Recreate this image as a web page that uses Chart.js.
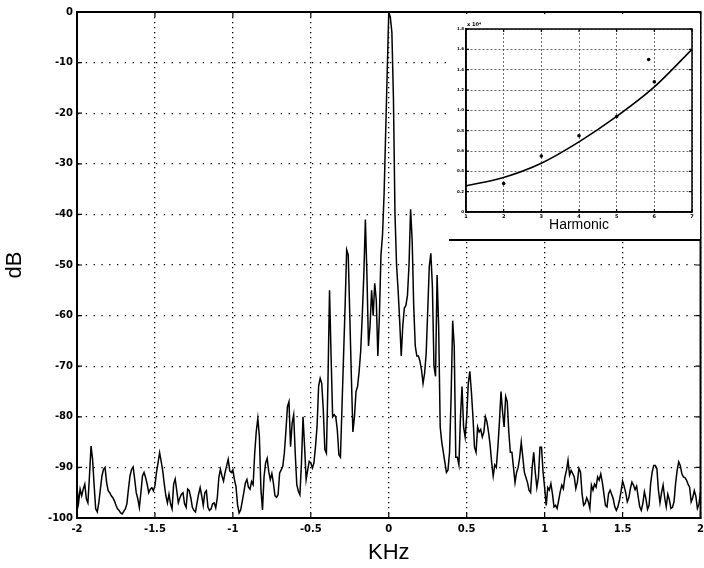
<!DOCTYPE html>
<html>
<head>
<meta charset="utf-8">
<title>Spectrum</title>
<script src="https://cdn.jsdelivr.net/npm/chart.js@4.4.1/dist/chart.umd.min.js"></script>
<style>
    html, body { margin: 0; padding: 0; background: #fff; }
    #wrap { position: relative; width: 704px; height: 568px; overflow: hidden; }
    #spectrumChart { position: absolute; left: 0; top: 0; }
    #inset {
        position: absolute; left: 449px; top: 14px; width: 251px; height: 227px;
        background: #fff; border-bottom: 2px solid #000; box-sizing: border-box;
    }
</style>
</head>
<body>
<div id="wrap">
    <canvas id="spectrumChart" width="704" height="568"></canvas>
    <div id="inset"><canvas id="harmonicChart" width="251" height="225"></canvas></div>
</div>
<script>
// Spectrum in dB, one value every 0.01 kHz
const specNeg2toNeg1 = [
    -94, -97, -94.3, -95.6, -94.3, -93.3, -96.2, -97, -91.7, -85.8,
    -88.4, -93.6, -98.2, -98.8, -97, -94.3, -91.7, -90.4, -90, -93,
    -94.6, -95, -95.6, -96, -96.6, -97.5, -98.2, -98.5, -99, -99.2,
    -98.7, -98.2, -97.2, -94.3, -91.7, -90.4, -89.9, -92.3, -95, -96.2,
    -97.9, -95, -91.7, -91, -92, -93.3, -95, -94.3, -94, -94.6,
    -93.6, -91, -89.1, -87.1, -88.8, -90.7, -93.3, -95.6, -97, -95.3,
    -97.2, -98.2, -93.3, -92.3, -94.6, -97, -96, -95.3, -95, -97.2,
    -97.9, -94.3, -94.6, -96, -97.9, -98.5, -98.8, -97, -95.3, -94,
    -95.6, -97.5, -95, -94.6, -97.9, -98.5, -98.2, -97.2, -97, -98,
    -96, -92, -90.4, -91.7, -92.7, -91, -89.7, -88.4, -90.7, -91
];
const specNeg1to0 = [
    -90.5, -92.4, -93.8, -97.4, -99, -98.4, -96.7, -95, -93.1, -92.4,
    -93.9, -94.3, -92.8, -93.4, -87.2, -82.9, -80.3, -83.9, -94.4, -98.4,
    -91.8, -89.1, -88.2, -90.8, -92.4, -91.2, -93.1, -95.6, -95.9, -95.4,
    -91.1, -90.5, -89.8, -87.2, -82.9, -78, -77, -85.9, -81.3, -79.6,
    -87.2, -93.4, -94.7, -95.4, -89.1, -80, -85.9, -92.4, -90.5, -88.8,
    -89.1, -90.1, -89.1, -85.9, -81.9, -74, -72.4, -73.4, -78.6, -86.5,
    -87.2, -73, -55, -68, -80, -79.6, -80, -82.6, -87.5, -88,
    -78, -68, -58, -47, -48, -60, -72, -83, -80, -75,
    -74, -71, -67, -60, -52, -41, -52, -66, -62, -55,
    -60, -53.6, -57, -68, -60, -48, -44, -36, -24, -12
];
const spec0to1 = [
    0, -1, -4, -17, -40, -50, -55, -61, -68, -62,
    -58.5, -58, -56, -50, -39, -45, -58, -66, -68, -68,
    -69, -70.7, -73.4, -71.4, -67.5, -59, -50.3, -47.7, -54.3, -70,
    -72, -52, -62, -82, -85, -87, -89, -91, -90.5, -87,
    -76, -61, -66, -88, -88, -89.5, -80, -74, -82, -84,
    -80, -73.5, -71, -75, -80, -86, -87, -82, -83, -82.5,
    -84, -83, -80, -81, -83, -85.5, -89, -91.7, -89.5, -90,
    -86, -81, -75, -79, -82, -76, -77, -83, -87, -87,
    -90, -93, -91, -90, -88, -85, -88, -91, -92, -93,
    -94.5, -95, -90, -87, -91, -94, -92, -86, -86, -91
];
const spec1to2 = [
    -94, -97.5, -94, -94.5, -93.2, -95.2, -97.8, -97.5, -98.1, -96.5,
    -94.8, -93.5, -94.2, -91.9, -90.6, -88.6, -91.5, -90.6, -91.2, -91.9,
    -94.2, -92.9, -90.2, -90.9, -95.2, -97.5, -97.1, -96, -96.8, -98.1,
    -93.5, -94.5, -93.3, -93.9, -91.9, -92.5, -91.3, -92.9, -95.2, -97.5,
    -97.8, -95.2, -94.5, -95.3, -96.2, -97.8, -98.5, -97.8, -96.5, -94.8,
    -92.7, -93.7, -95, -96.8, -96, -94.2, -92.9, -93.5, -94.4, -93.7,
    -95.8, -97.8, -98.5, -97.1, -94.8, -96.2, -98.3, -97.5, -93.2, -90.9,
    -89.6, -89.6, -90.2, -94.5, -97, -95, -93.5, -96, -97.8, -95.3,
    -96.4, -98.1, -97.9, -96.8, -93.2, -90.6, -88.9, -89.6, -91.2, -91.9,
    -92, -92.5, -93.3, -93.9, -96.8, -96, -94.6, -95.7, -98.1, -97.3,
    -94.8
];
const freqStart = -2;
const freqStep = 0.01;

// Inset: fitted curve and measured points per harmonic
const harmonics = [1, 2, 3, 4, 5, 6, 7];
const harmonicFit = [0.256, 0.34, 0.48, 0.69, 0.94, 1.23, 1.6];
const measuredX = [2, 3, 4, 5, 5.85, 6];
const measuredY = [0.28, 0.55, 0.75, 0.94, 1.5, 1.28];

// box round the plot area plus inward tick marks (matlab look)
const framePlugin = {
    id: 'frame',
    afterDraw(chart, args, opts) {
        const { ctx, chartArea: a, scales } = chart;
        ctx.save();
        ctx.strokeStyle = '#000';
        ctx.lineWidth = opts.width || 2;
        ctx.strokeRect(a.left, a.top, a.right - a.left, a.bottom - a.top);
        const len = opts.tick || 5;
        ctx.lineWidth = 1.2;
        ctx.beginPath();
        scales.x.ticks.forEach(t => {
            const x = scales.x.getPixelForValue(t.value);
            ctx.moveTo(x, a.top); ctx.lineTo(x, a.top + len);
            ctx.moveTo(x, a.bottom); ctx.lineTo(x, a.bottom - len);
        });
        scales.y.ticks.forEach(t => {
            const y = scales.y.getPixelForValue(t.value);
            ctx.moveTo(a.left, y); ctx.lineTo(a.left + len, y);
            ctx.moveTo(a.right, y); ctx.lineTo(a.right - len, y);
        });
        ctx.stroke();
        if (opts.exponent) {
            ctx.fillStyle = '#000';
            ctx.font = 'bold 5px "DejaVu Sans"';
            ctx.textBaseline = 'bottom';
            ctx.fillText(opts.exponent, a.left + 1, a.top - 2);
        }
        ctx.restore();
    }
};

const shortNum = v => String(+v.toFixed(2));

document.addEventListener('DOMContentLoaded', () => {
    const spectrum = [...specNeg2toNeg1, ...specNeg1to0, ...spec0to1, ...spec1to2];
    const points = spectrum.map((v, i) => ({ x: +(freqStart + i * freqStep).toFixed(2), y: v }));

    const tickFont = { family: 'DejaVu Sans', weight: 'bold', size: 10 };

    // Main spectrum
    new Chart(document.getElementById('spectrumChart'), {
        type: 'line',
        data: {
            datasets: [{
                data: points,
                borderColor: '#000',
                borderWidth: 1.5,
                pointRadius: 0,
                tension: 0
            }]
        },
        options: {
            responsive: false,
            animation: false,
            layout: { padding: { top: 12, right: 3 } },
            plugins: {
                legend: { display: false },
                tooltip: { enabled: false },
                frame: { width: 2, tick: 5 }
            },
            scales: {
                x: {
                    type: 'linear', min: -2, max: 2,
                    // padding 0 so the last label does not pull the plot in; an invisible tick gives the gap
                    ticks: { stepSize: 0.5, color: '#000', font: tickFont, padding: 0, maxRotation: 0, autoSkip: false, callback: shortNum },
                    grid: { color: '#000', lineWidth: 1.3, drawTicks: true, tickLength: 5, tickColor: 'rgba(0,0,0,0)' },
                    border: { color: '#000', width: 2, dash: [1.3, 3.7] },
                    title: { display: true, text: 'KHz', color: '#000', font: { family: 'Liberation Sans', size: 22 }, padding: { top: 0, bottom: 2 } },
                    afterFit: s => { s.height = 50; }
                },
                y: {
                    min: -100, max: 0,
                    ticks: { stepSize: 10, color: '#000', font: tickFont, padding: 4, callback: shortNum },
                    grid: { color: '#000', lineWidth: 1.3, drawTicks: false },
                    border: { color: '#000', width: 2, dash: [1.3, 6.5] },
                    title: { display: true, text: 'dB', color: '#000', font: { family: 'Liberation Sans', size: 22 }, padding: { top: 2, bottom: 0 } },
                    afterFit: s => { s.width = 77; }
                }
            }
        },
        plugins: [framePlugin]
    });

    // Inset: harmonic curve
    new Chart(document.getElementById('harmonicChart'), {
        data: {
            datasets: [{
                type: 'line',
                data: harmonics.map((h, i) => ({ x: h, y: harmonicFit[i] })),
                borderColor: '#000',
                borderWidth: 1.6,
                pointRadius: 0,
                cubicInterpolationMode: 'monotone'
            }, {
                type: 'scatter',
                data: measuredX.map((h, i) => ({ x: h, y: measuredY[i] })),
                backgroundColor: '#000',
                borderWidth: 0,
                pointRadius: 1.8
            }]
        },
        options: {
            responsive: false,
            animation: false,
            layout: { padding: { top: 15, right: 8 } },
            plugins: {
                legend: { display: false },
                tooltip: { enabled: false },
                frame: { width: 1.5, tick: 3, exponent: 'x 10\u2074' }
            },
            scales: {
                x: {
                    type: 'linear', min: 1, max: 7,
                    ticks: { stepSize: 1, color: '#000', font: { family: 'DejaVu Sans', weight: 'bold', size: 5 }, padding: 2 },
                    grid: { color: '#444', lineWidth: 0.8, drawTicks: false },
                    border: { color: '#000', width: 1.5, dash: [2, 2] },
                    title: { display: true, text: 'Harmonic', color: '#000', font: { family: 'Liberation Sans', size: 14 }, padding: { top: 0, bottom: 5 } },
                    afterFit: s => { s.height = 27; }
                },
                y: {
                    min: 0, max: 1.8,
                    ticks: { stepSize: 0.2, color: '#000', font: { family: 'DejaVu Sans', weight: 'bold', size: 4 }, padding: 2 },
                    grid: { color: '#444', lineWidth: 0.8, drawTicks: false },
                    border: { color: '#000', width: 1.5, dash: [2, 2] },
                    afterFit: s => { s.width = 17; }
                }
            }
        },
        plugins: [framePlugin]
    });
});
</script>
</body>
</html>
